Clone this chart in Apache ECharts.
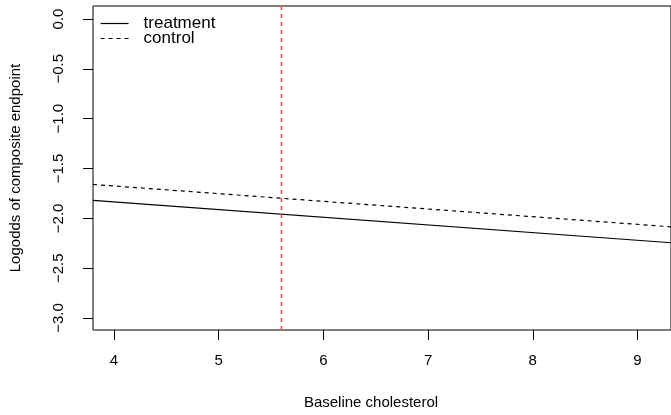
<!DOCTYPE html>
<html>
<head>
<meta charset="utf-8">
<script src="https://cdn.jsdelivr.net/npm/echarts@6/dist/echarts.min.js"></script>
<style>
  html, body { margin: 0; padding: 0; background: #fff; }
  #chart { width: 671px; height: 415px; }
</style>
</head>
<body>
<div id="chart"></div>
<script>
// data
var xVals = [3.8, 9.32];
var treatment = [-1.82, -2.245];
var control = [-1.66, -2.085];
var refLine = 5.6;
var xTicks = [4, 5, 6, 7, 8, 9];
var yTicks = [-3, -2.5, -2, -1.5, -1, -0.5, 0];
var yMin = -3.12, yMax = 0.13;

var font = "'Liberation Sans', Arial, Helvetica, sans-serif";

function pairs(xs, ys) {
    return xs.map(function (x, i) { return [x, ys[i]]; });
}

var chart = echarts.init(document.getElementById('chart'));

chart.setOption({
    animation: false,
    backgroundColor: '#fff',
    textStyle: { fontFamily: font, color: '#000' },
    grid: {
        left: 86, top: 6, bottom: 84, right: -20,
        show: true, borderColor: '#000', borderWidth: 1
    },
    legend: {
        orient: 'vertical',
        left: 100, top: 15,
        padding: 0,
        itemWidth: 28, itemHeight: 10, itemGap: -2,
        itemStyle: { opacity: 0 },
        lineStyle: { width: 1.2 },
        textStyle: { fontFamily: font, fontSize: 17, color: '#000', lineHeight: 16, padding: [0, 0, 0, 10] },
        data: ['treatment', 'control']
    },
    xAxis: {
        type: 'value',
        min: 3.8, max: 9.32,
        name: 'Baseline cholesterol',
        nameLocation: 'middle',
        nameGap: 65,
        nameTextStyle: { fontFamily: font, fontSize: 15, color: '#000', padding: [0, 22, 0, 0] },
        splitLine: { show: false },
        axisLine: { show: false, onZero: false },
        axisTick: { show: true, inside: false, length: 10, customValues: xTicks, lineStyle: { color: '#000' } },
        axisLabel: { customValues: xTicks, margin: 23, fontSize: 15, color: '#000', fontFamily: font }
    },
    yAxis: {
        type: 'value',
        min: yMin, max: yMax,
        name: 'Logodds of composite endpoint',
        nameLocation: 'middle',
        nameRotate: 90,
        nameGap: 70,
        nameTextStyle: { fontFamily: font, fontSize: 15, color: '#000' },
        splitLine: { show: false },
        axisLine: { show: false, onZero: false },
        axisTick: { show: true, inside: false, length: 10, customValues: yTicks, lineStyle: { color: '#000' } },
        axisLabel: {
            customValues: yTicks,
            rotate: 90,
            margin: 27,
            fontSize: 15, color: '#000', fontFamily: font,
            formatter: function (v) {
                return (v < 0 ? '\u2212' : '') + Math.abs(v).toFixed(1);
            }
        }
    },
    series: [
        {
            name: 'treatment',
            type: 'line',
            data: pairs(xVals, treatment),
            symbol: 'none',
            lineStyle: { color: '#000', width: 1.2, type: 'solid' },
            itemStyle: { color: '#000' }
        },
        {
            name: 'control',
            type: 'line',
            data: pairs(xVals, control),
            symbol: 'none',
            lineStyle: { color: '#000', width: 1.2, type: [4, 4] },
            itemStyle: { color: '#000' }
        },
        {
            // vertical reference line
            name: 'ref',
            type: 'line',
            data: [[refLine, yMin], [refLine, yMax]],
            symbol: 'none',
            silent: true,
            color: '#f24a4a',
            lineStyle: { color: '#f24a4a', width: 1.5, type: [4, 4] },
            itemStyle: { color: '#f24a4a' }
        }
    ]
});
</script>
</body>
</html>
